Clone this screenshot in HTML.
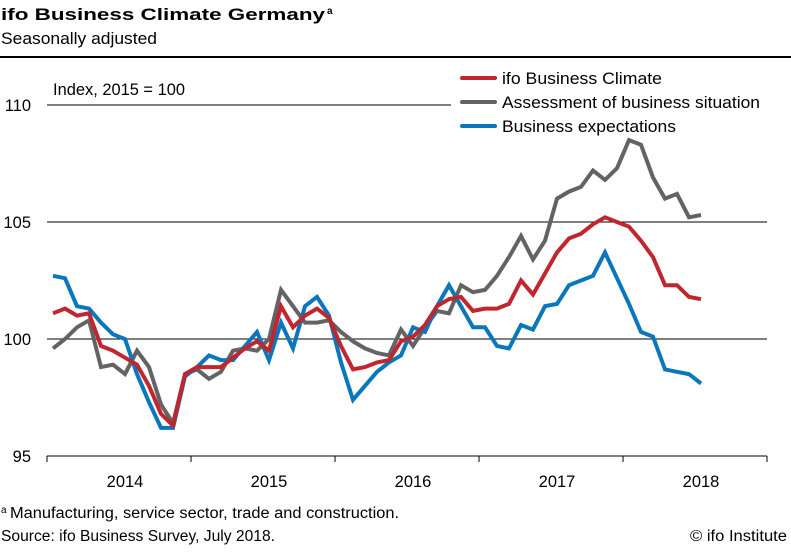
<!DOCTYPE html>
<html><head><meta charset="utf-8"><style>
html,body{margin:0;padding:0;background:#fff}
body{width:791px;height:548px;overflow:hidden;font-family:"Liberation Sans","DejaVu Sans",sans-serif;color:#000}
</style></head><body>
<svg id="chart" width="791" height="548" viewBox="0 0 791 548" xmlns="http://www.w3.org/2000/svg" font-family="Liberation Sans, sans-serif">
<text x="1" y="20" font-size="17" font-weight="bold" textLength="324" lengthAdjust="spacingAndGlyphs">ifo Business Climate Germany</text>
<text x="327" y="14" font-size="10" font-weight="bold">a</text>
<text x="1" y="44" font-size="17" textLength="156" lengthAdjust="spacingAndGlyphs">Seasonally adjusted</text>
<line x1="0" y1="57" x2="791" y2="57" stroke="#000" stroke-width="2"/>
<text x="53" y="95" font-size="16.5" textLength="132" lengthAdjust="spacingAndGlyphs">Index, 2015 = 100</text>
<g id="grid"></g>
<g id="axes"></g>
<g id="series"></g>
<g id="legend"></g>
<text x="1" y="513" font-size="10">a</text>
<text x="10" y="518" font-size="15.5" textLength="389" lengthAdjust="spacingAndGlyphs">Manufacturing, service sector, trade and construction.</text>
<text x="1" y="541" font-size="15.5" textLength="274" lengthAdjust="spacingAndGlyphs">Source: ifo Business Survey, July 2018.</text>
<text x="690" y="541" font-size="15.5" textLength="97" lengthAdjust="spacingAndGlyphs">© ifo Institute</text>
</svg>
<script>
const years = ["2014","2015","2016","2017","2018"];
const yTicks = [95,100,105,110];
const climate = [101.1,101.3,101.0,101.1,99.7,99.5,99.2,98.9,98.0,96.8,96.3,98.5,98.8,98.8,98.8,99.2,99.6,99.9,99.5,101.4,100.5,101.0,101.3,100.9,99.7,98.7,98.8,99.0,99.1,99.9,100.1,100.6,101.4,101.7,101.8,101.2,101.3,101.3,101.5,102.5,101.9,102.8,103.7,104.3,104.5,104.9,105.2,105.0,104.8,104.2,103.5,102.3,102.3,101.8,101.7];
const situation = [99.6,100.0,100.5,100.8,98.8,98.9,98.5,99.5,98.8,97.2,96.4,98.5,98.7,98.3,98.6,99.5,99.6,99.5,100.0,102.1,101.4,100.7,100.7,100.8,100.3,99.9,99.6,99.4,99.3,100.4,99.7,100.5,101.2,101.1,102.3,102.0,102.1,102.7,103.5,104.4,103.4,104.2,106.0,106.3,106.5,107.2,106.8,107.3,108.5,108.3,106.9,106.0,106.2,105.2,105.3];
const expectations = [102.7,102.6,101.4,101.3,100.7,100.2,100.0,98.5,97.3,96.2,96.2,98.4,98.8,99.3,99.1,99.1,99.7,100.3,99.1,100.7,99.6,101.4,101.8,101.0,99.0,97.4,98.0,98.6,99.0,99.3,100.5,100.3,101.4,102.3,101.4,100.5,100.5,99.7,99.6,100.6,100.4,101.4,101.5,102.3,102.5,102.7,103.7,102.6,101.5,100.3,100.1,98.7,98.6,98.5,98.1];

const NS="http://www.w3.org/2000/svg";
const X0=47, MONTH=12, Y95=456, PER=23.4;
function xMonth(i){return X0+6+MONTH*i;}
function yVal(v){return Y95-(v-95)*PER;}
function mk(tag,attrs,parent){const e=document.createElementNS(NS,tag);for(const k in attrs)e.setAttribute(k,attrs[k]);parent.appendChild(e);return e;}
const grid=document.getElementById('grid'), axes=document.getElementById('axes'), series=document.getElementById('series'), legend=document.getElementById('legend');
const xEnd=X0+MONTH*12*years.length;
yTicks.forEach(t=>{
  const y=yVal(t);
  if(t>95){
    const l=mk('line',{x1:X0,x2:t===110?451:xEnd,y1:y,y2:y,stroke:'#000','stroke-width':1},grid);
    
    
  }
  const tx=mk('text',{x:31,y:y+6,'font-size':16.5,'text-anchor':'end'},axes);
  tx.textContent=t;
  
  
});
const ax=mk('line',{x1:X0,x2:xEnd,y1:Y95,y2:Y95,stroke:'#000','stroke-width':1},axes);


for(let k=0;k<=years.length;k++){
  const x=X0+144*k;
  const tk=mk('line',{x1:x,x2:x,y1:Y95,y2:Y95+6,stroke:'#000','stroke-width':1},axes);
  
  
}
years.forEach((yr,k)=>{
  const tx=mk('text',{x:X0+144*k+78,y:487,'font-size':16.5,'text-anchor':'middle'},axes);
  tx.textContent=yr;
  
  
});
const defs=[["situation",situation,"#656263","assessment-of-business-situation"],["expectations",expectations,"#0a76bb","business-expectations"],["climate",climate,"#c0262d","ifo-business-climate"]];
defs.forEach(([k,arr,col,name])=>{
  const pts=arr.map((v,i)=>xMonth(i).toFixed(1)+','+yVal(v).toFixed(1)).join(' ');
  const p=mk('polyline',{points:pts,fill:'none',stroke:col,'stroke-width':4,'stroke-linejoin':'miter'},series);
  
  
});
const leg=[["ifo Business Climate","#c0262d","legend-entry-climate",160],["Assessment of business situation","#656263","legend-entry-situation",258],["Business expectations","#0a76bb","legend-entry-expectations",174]];
leg.forEach(([lab,col,name,w],j)=>{
  const y=78+j*24;
  const g=mk('g',{},legend);
  
  
  mk('line',{x1:462,x2:495,y1:y,y2:y,stroke:col,'stroke-width':4,'stroke-linecap':'round'},g);
  const t=mk('text',{x:502,y:y+6,'font-size':17,textLength:w,lengthAdjust:'spacingAndGlyphs'},g);
  t.textContent=lab;
});
</script>
</body></html>
